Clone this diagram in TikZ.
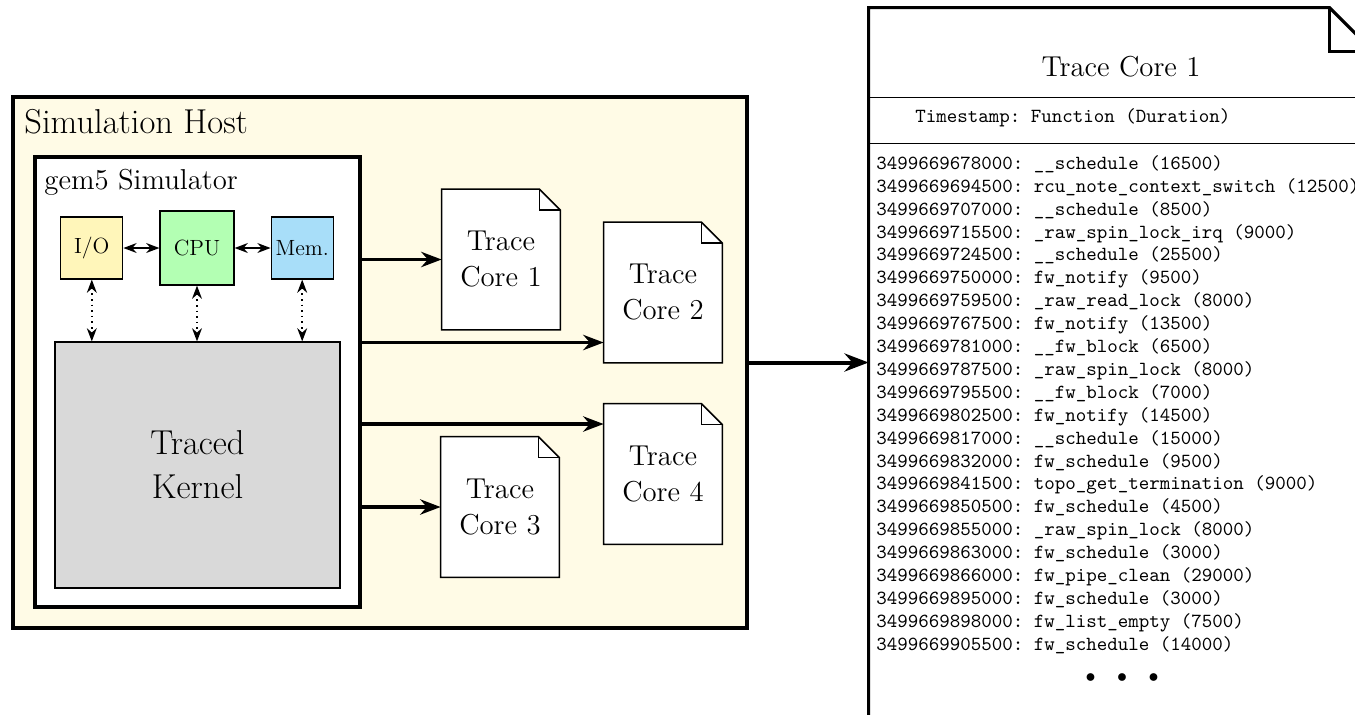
\documentclass[tikz,border=0pt]{standalone}
\usepackage{tikz}
\usepackage{xcolor}
\usetikzlibrary{arrows.meta,positioning,calc}

\definecolor{hostbg}{RGB}{255,251,230}
\definecolor{iofill}{RGB}{255,246,186}
\definecolor{cpufill}{RGB}{179,255,179}
\definecolor{memfill}{RGB}{168,222,249}
\definecolor{kernfill}{RGB}{217,217,217}

\begin{document}
\begin{tikzpicture}[x=0.5pt, y=-0.5pt,
    unit/.style={draw, semithick, inner sep=1pt, font=\fontsize{11}{13}\selectfont},
    tracedoc/.style={fill=white, align=center, font=\Large, minimum width=59pt, minimum height=70pt},
    entry/.style={anchor=base west, inner sep=0pt, font=\ttfamily\frenchspacing\fontsize{10}{11.45}\selectfont}]
  \useasboundingbox (0,0) rectangle (1355,714);
  \clip (0,0) rectangle (1355,714);

  % simulation host
  \node[draw, ultra thick, fill=hostbg, minimum width=367pt, minimum height=265.5pt] (host) at (380,362.5) {};
  \node[anchor=base west, inner sep=0pt, font=\LARGE] (hostlabel) at (24,133) {Simulation Host};
  \node[draw, ultra thick, fill=white, minimum width=162.5pt, minimum height=225pt] (gem) at (197.5,382) {};
  \node[anchor=base west, inner sep=0pt, font=\Large] (gemlabel) at (44,189) {gem5 Simulator};

  \node[unit, fill=cpufill, minimum size=37pt] (cpu) at (197,248) {CPU};
  \node[unit, fill=iofill, minimum size=31pt, left=18pt of cpu] (io) {I/O};
  \node[unit, fill=memfill, minimum size=31pt, right=18pt of cpu] (mem) {Mem.};
  \node[draw, semithick, fill=kernfill, minimum width=142.5pt, minimum height=123pt, align=center, font=\LARGE] (kern) at (197.5,465) {Traced\\Kernel};

  \draw[{Stealth}-{Stealth}, thick] (io) -- (cpu);
  \draw[{Stealth}-{Stealth}, thick] (cpu) -- (mem);
  \draw[{Stealth}-{Stealth}, thick, dotted] (io.south) -- (io.south |- kern.north);
  \draw[{Stealth}-{Stealth}, thick, dotted] (cpu.south) -- (cpu.south |- kern.north);
  \draw[{Stealth}-{Stealth}, thick, dotted] (mem.south) -- (mem.south |- kern.north);

  % trace files
  \node[tracedoc] (t1) at (501,259.5) {Trace\\Core 1};
  \node[tracedoc] (t2) at (663,292.5) {Trace\\Core 2};
  \node[tracedoc] (t3) at (500,507) {Trace\\Core 3};
  \node[tracedoc] (t4) at (663,474) {Trace\\Core 4};
  \foreach \d in {t1,t2,t3,t4} {
    \fill[hostbg] ([xshift=-10.5pt]\d.north east) -- (\d.north east) -- ([yshift=-10.5pt]\d.north east) -- cycle;
    \draw[thick] (\d.south west) -- (\d.north west) -- ([xshift=-10.5pt]\d.north east) -- ([yshift=-10.5pt]\d.north east) -- (\d.south east) -- cycle;
    \draw[thick] ([xshift=-10.5pt]\d.north east) |- ([yshift=-10.5pt]\d.north east);
  }

  \coordinate (a2) at ([yshift=-25pt]t2.west);
  \coordinate (a4) at ([yshift=25pt]t4.west);
  \draw[-{Stealth}, ultra thick] (gem.east |- t1.west) -- (t1.west);
  \draw[-{Stealth}, ultra thick] (gem.east |- a2) -- (a2);
  \draw[-{Stealth}, ultra thick] (gem.east |- a4) -- (a4);
  \draw[-{Stealth}, ultra thick] (gem.east |- t3.west) -- (t3.west);

  % merged trace
  \node[minimum width=252pt, minimum height=376pt] (big) at (1121,384) {};
  \draw[ultra thick] (big.south west) -- (big.north west) -- ([xshift=-22pt]big.north east) -- ([yshift=-22pt]big.north east) -- (big.south east);
  \draw[ultra thick] ([xshift=-22pt]big.north east) |- ([yshift=-22pt]big.north east);
  \draw[-{Stealth}, line width=2pt] (host.east) -- (big.west |- host.east);

  \node[anchor=base, inner sep=0pt, font=\Large] (bigtitle) at (1121,76) {Trace Core 1};
  \draw[semithick] ([yshift=-45pt]big.north west) -- ([yshift=-45pt]big.north east);
  \node[entry] (header) at (915,122) {Timestamp: Function (Duration)};
  \draw[semithick] ([yshift=-68pt]big.north west) -- ([yshift=-68pt]big.north east);

  \foreach \e [count=\i] in {
      3499669678000: \_\_schedule (16500),
      3499669694500: rcu\_note\_context\_switch (12500),
      3499669707000: \_\_schedule (8500),
      3499669715500: \_raw\_spin\_lock\_irq (9000),
      3499669724500: \_\_schedule (25500),
      3499669750000: fw\_notify (9500),
      3499669759500: \_raw\_read\_lock (8000),
      3499669767500: fw\_notify (13500),
      3499669781000: \_\_fw\_block (6500),
      3499669787500: \_raw\_spin\_lock (8000),
      3499669795500: \_\_fw\_block (7000),
      3499669802500: fw\_notify (14500),
      3499669817000: \_\_schedule (15000),
      3499669832000: fw\_schedule (9500),
      3499669841500: topo\_get\_termination (9000),
      3499669850500: fw\_schedule (4500),
      3499669855000: \_raw\_spin\_lock (8000),
      3499669863000: fw\_schedule (3000),
      3499669866000: fw\_pipe\_clean (29000),
      3499669895000: fw\_schedule (3000),
      3499669898000: fw\_list\_empty (7500),
      3499669905500: fw\_schedule (14000)}
    \node[entry] (e\i) at (876,{169.3+22.9*(\i-1)}) {\e};

  \node[font=\fontsize{10}{12}\selectfont] (dots) at (1122,678) {$\bullet$\hspace{10.75pt}$\bullet$\hspace{10.75pt}$\bullet$};
\end{tikzpicture}
\end{document}
